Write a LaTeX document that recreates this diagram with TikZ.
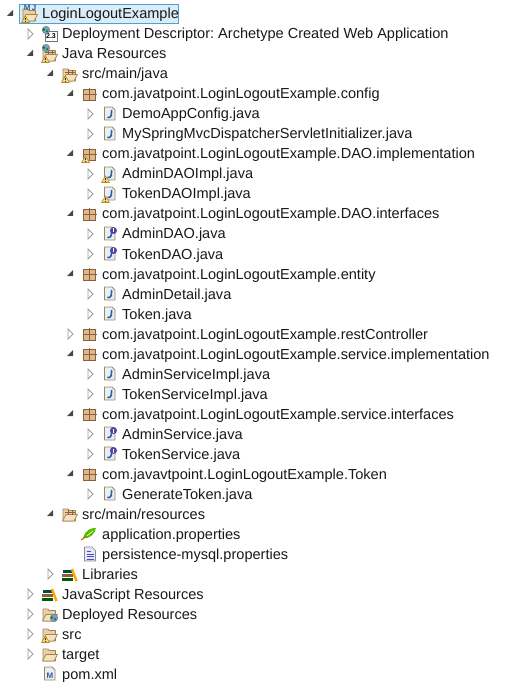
\documentclass[tikz,border=0pt]{standalone}
\usepackage{fontspec}
\setmainfont{Liberation Sans}
\usetikzlibrary{positioning}

\definecolor{selfill}{HTML}{D9ECF8}
\definecolor{selline}{HTML}{4FA3D1}
\definecolor{tan}{HTML}{A5834F}
\definecolor{tanfill}{HTML}{F3E3BF}
\definecolor{pagefill}{HTML}{E6EFF8}
\definecolor{jblue}{HTML}{2F5F9E}
\definecolor{brownline}{HTML}{8E5E3E}
\definecolor{brownfill}{HTML}{DDB98C}
\definecolor{ipurple}{HTML}{5143A6}
\definecolor{warnfill}{HTML}{F7D77C}
\definecolor{warnline}{HTML}{B98A2E}

\tikzset{
	item/.style={anchor=west,inner sep=0pt,text height=11pt,text depth=1pt,font=\fontsize{14.55pt}{16pt}\selectfont\frenchspacing,text=black!90},
	sib/.style={below=20pt of #1.west,item},
	kid/.style={below right=20pt and 20pt of #1.west,item},
	up/.style={below left=20pt and 20pt of #1.west,item},
	closedtw/.pic={\draw[black!38,fill=white,line width=.8pt] (-34,5) -- (-34,-5) -- (-29,0) -- cycle;},
	opentw/.pic={\fill[black!72] (-29,4) -- (-29,-2) -- (-35,-2) -- cycle;},
	warn/.pic={
		\draw[fill=warnfill,draw=warnline,line width=.6pt,line join=round] (-20.5,-8.5) -- (-12.5,-8.5) -- (-16.5,-2) -- cycle;
		\draw[black!80,line width=.8pt] (-16.5,-3.6) -- (-16.5,-6.2) (-16.5,-6.9) -- (-16.5,-7.8);},
	pkg/.pic={
		\draw[brownline,fill=brownfill,line width=.8pt] (-18.5,-6) rectangle (-6.5,5);
		\draw[brownline,line width=1.3pt] (-19.5,-.5) -- (-5.5,-.5) (-12.5,-7) -- (-12.5,6);},
	page/.pic={
		\draw[tan,fill=pagefill,line width=.9pt,line join=round] (-17.5,-6) -- (-7,-6) -- (-7,4) -- (-10,7) -- (-17.5,7) -- cycle;},
	jfile/.pic={
		\pic {page};
		\draw[jblue,line width=1.6pt] (-10.3,4) -- (-10.8,-1.5) .. controls (-11,-3.5) and (-13,-3.8) .. (-14.7,-3.5);},
	ifile/.pic={
		\pic {jfile};
		\fill[ipurple] (-8.5,3.5) circle (3.5);
		\draw[white,line width=.9pt] (-8.5,5.5) -- (-8.5,1.5);},
	folderback/.pic={
		\draw[tan,fill=tanfill!80!brown,line width=.7pt,line join=round] (-19,-7) -- (-19,5) -- (-14,5) -- (-13,3.5) -- (-6.5,3.5) -- (-6.5,-7) -- cycle;
		\draw[tan,fill=tanfill,line width=.7pt,line join=round] (-19.5,-7) -- (-16,-.5) -- (-4.5,-.5) -- (-8,-7) -- cycle;},
	srcfolder/.pic={
		\pic {folderback};
		\draw[brownline,line width=1pt] (-14,5) -- (-14,-.5) (-10,4) -- (-10,-.5) (-17,1.5) -- (-7,1.5);},
	globe/.pic={
		\draw[black!50,fill=cyan!45!blue!55,line width=.5pt] (0,0) circle (3.8);
		\fill[green!55!black] (-2.2,.4) circle (1.4) (1.2,-1.2) circle (1.2);},
	books/.pic={
		\fill[green!35!black] (-20,-7) rectangle (-9,-3.5);
		\fill[brown!75!black] (-20,-3) rectangle (-9.5,.5);
		\fill[teal!60!black] (-19,1) rectangle (-9.5,4);
		\draw[orange!70!yellow,line width=2.4pt] (-10,5) -- (-5.5,-7);},
	leaf/.pic={
		\fill[green!55!yellow!75!black] (-19,-4) .. controls (-16,5) and (-11,6) .. (-6,6) .. controls (-7,1) and (-11,-5) .. (-19,-4) -- cycle;
		\draw[orange!80!black,line width=1.1pt] (-21,-6) -- (-15,-2);
		\draw[white,line width=.6pt] (-15,-2) -- (-9,3);},
	docfile/.pic={
		\draw[black!45,fill=blue!10,line width=.7pt,line join=round] (-17.5,-7) -- (-6.5,-7) -- (-6.5,3.5) -- (-10,7) -- (-17.5,7) -- cycle;
		\draw[blue!60!black!70,line width=.8pt] (-15.5,2.5) -- (-11,2.5) (-15.5,0) -- (-8.5,0) (-15.5,-2.5) -- (-8.5,-2.5) (-15.5,-5) -- (-8.5,-5);}
}

\begin{document}
\begin{tikzpicture}[x=1pt,y=1pt,on grid]
	\useasboundingbox (0,0) rectangle (505,-684);

	%Selected project
	\draw[selline,fill=selfill,line width=1pt] (19.5,-4.5) rectangle (178.5,-23.5);

	%Tree rows
	\node (root) [item] at (42,-14) {LoginLogoutExample};
	\node (dd) [kid=root] {Deployment Descriptor: Archetype Created Web Application};
	\node (jres) [sib=dd] {Java Resources};
	\node (srcjava) [kid=jres] {src/main/java};
	\node (cfg) [kid=srcjava] {com.javatpoint.LoginLogoutExample.config};
	\node (demo) [kid=cfg] {DemoAppConfig.java};
	\node (mysp) [sib=demo] {MySpringMvcDispatcherServletInitializer.java};
	\node (daoimpl) [up=mysp] {com.javatpoint.LoginLogoutExample.DAO.implementation};
	\node (admimpl) [kid=daoimpl] {AdminDAOImpl.java};
	\node (tokimpl) [sib=admimpl] {TokenDAOImpl.java};
	\node (daoif) [up=tokimpl] {com.javatpoint.LoginLogoutExample.DAO.interfaces};
	\node (admdao) [kid=daoif] {AdminDAO.java};
	\node (tokdao) [sib=admdao] {TokenDAO.java};
	\node (entity) [up=tokdao] {com.javatpoint.LoginLogoutExample.entity};
	\node (admdet) [kid=entity] {AdminDetail.java};
	\node (token) [sib=admdet] {Token.java};
	\node (rest) [up=token] {com.javatpoint.LoginLogoutExample.restController};
	\node (srvimpl) [sib=rest] {com.javatpoint.LoginLogoutExample.service.implementation};
	\node (admsimpl) [kid=srvimpl] {AdminServiceImpl.java};
	\node (toksimpl) [sib=admsimpl] {TokenServiceImpl.java};
	\node (srvif) [up=toksimpl] {com.javatpoint.LoginLogoutExample.service.interfaces};
	\node (admsrv) [kid=srvif] {AdminService.java};
	\node (toksrv) [sib=admsrv] {TokenService.java};
	\node (tokpkg) [up=toksrv] {com.javavtpoint.LoginLogoutExample.Token};
	\node (gen) [kid=tokpkg] {GenerateToken.java};
	\node (srcres) [below left=20pt and 40pt of gen.west,item] {src/main/resources};
	\node (app) [kid=srcres] {application.properties};
	\node (persist) [sib=app] {persistence-mysql.properties};
	\node (libs) [up=persist] {Libraries};
	\node (jsres) [up=libs] {JavaScript Resources};
	\node (depres) [sib=jsres] {Deployed Resources};
	\node (src) [sib=depres] {src};
	\node (target) [sib=src] {target};
	\node (pom) [sib=target] {pom.xml};

	%Twisties
	\foreach \n in {root,jres,srcjava,cfg,daoimpl,daoif,entity,srvimpl,srvif,tokpkg,srcres}
		\pic at (\n.west) {opentw};
	\foreach \n in {dd,demo,mysp,admimpl,tokimpl,admdao,tokdao,admdet,token,rest,admsimpl,toksimpl,admsrv,toksrv,gen,libs,jsres,depres,src,target}
		\pic at (\n.west) {closedtw};

	%File and package icons
	\foreach \n in {cfg,daoimpl,daoif,entity,rest,srvimpl,srvif,tokpkg}
		\pic at (\n.west) {pkg};
	\foreach \n in {demo,mysp,admimpl,tokimpl,admdet,token,admsimpl,toksimpl,gen}
		\pic at (\n.west) {jfile};
	\foreach \n in {admdao,tokdao,admsrv,toksrv}
		\pic at (\n.west) {ifile};
	\foreach \n in {jres,srcjava,srcres}
		\pic at (\n.west) {srcfolder};
	\foreach \n in {depres,src,target}
		\pic at (\n.west) {folderback};
	\foreach \n in {libs,jsres}
		\pic at (\n.west) {books};
	\pic at (app.west) {leaf};
	\pic at (persist.west) {docfile};

	%Project icon
	\pic at (root.west) {folderback};
	\node (mj) [anchor=center,inner sep=0pt,text=jblue,font=\fontsize{8pt}{8pt}\bfseries\selectfont] at ([xshift=-12pt,yshift=6pt]root.west) {M\,J};

	%Descriptor and globes
	\draw[black!55,fill=white,line width=.7pt] ([xshift=-17pt,yshift=3pt]dd.west) rectangle ([xshift=-5pt,yshift=-7pt]dd.west);
	\node (ddver) [anchor=center,inner sep=0pt,font=\fontsize{7pt}{7pt}\bfseries\selectfont] at ([xshift=-11pt,yshift=-2pt]dd.west) {2.3};
	\pic at ([xshift=-16pt,yshift=4pt]dd.west) {globe};
	\pic at ([xshift=-16pt,yshift=6pt]jres.west) {globe};
	\pic at ([xshift=-8pt,yshift=-4pt]depres.west) {globe};

	%Pom file
	\pic at (pom.west) {page};
	\node (pomm) [anchor=center,inner sep=0pt,text=jblue,font=\fontsize{8pt}{8pt}\bfseries\selectfont] at ([xshift=-12pt,yshift=-2pt]pom.west) {M};

	%Warnings
	\foreach \n in {root,jres,srcjava,daoimpl,admimpl,tokimpl,src}
		\pic at (\n.west) {warn};
\end{tikzpicture}
\end{document}
